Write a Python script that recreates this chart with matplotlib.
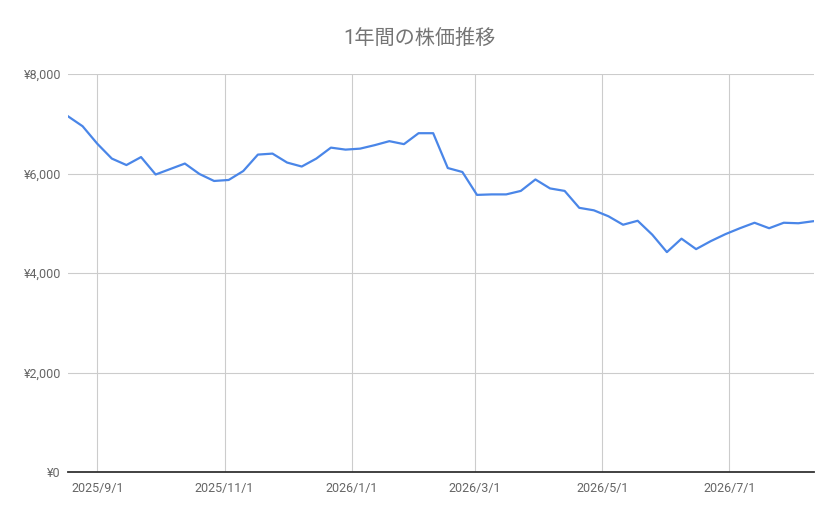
import matplotlib
matplotlib.use("Agg")
import matplotlib.pyplot as plt
import matplotlib.dates as mdates
from matplotlib.ticker import FuncFormatter, MultipleLocator
import pandas as pd

plt.rcParams['font.family'] = ['Roboto', 'Noto Sans CJK JP', 'DejaVu Sans']

# 週次の株価 (2025/8/18 から 52 週)
dates = pd.date_range('2025-08-18', periods=52, freq='7D')
prices = [7150, 6950, 6600, 6300, 6170, 6330, 5980, 6090, 6200, 5990,
          5850, 5870, 6050, 6380, 6400, 6220, 6140, 6300, 6520, 6480,
          6500, 6570, 6650, 6590, 6810, 6810, 6110, 6030, 5570, 5580,
          5580, 5650, 5880, 5700, 5650, 5310, 5260, 5140, 4970, 5050,
          4770, 4420, 4690, 4480, 4640, 4780, 4900, 5010, 4900, 5010,
          5000, 5040]
title = '1年間の株価推移'

fig = plt.figure(figsize=(8.39, 5.19), dpi=100)
ax = fig.add_axes([68 / 839, 1 - 472 / 519, 746 / 839, 398 / 519])

ax.plot(dates, prices, color='#4a86e8', linewidth=1.6, solid_joinstyle='round')

ax.set_xlim(dates[0], dates[-1] + pd.Timedelta(days=0.5))
ax.set_ylim(0, 8000)
ax.yaxis.set_major_locator(MultipleLocator(2000))
ax.yaxis.set_major_formatter(FuncFormatter(lambda v, p: '¥{:,.0f}'.format(v)))
ax.xaxis.set_major_locator(mdates.MonthLocator(bymonth=[1, 3, 5, 7, 9, 11]))
ax.xaxis.set_major_formatter(FuncFormatter(
    lambda v, p: '{0.year}/{0.month}/{0.day}'.format(mdates.num2date(v))))

ax.grid(True, color='#cccccc', linewidth=0.8)
ax.set_axisbelow(True)
for s in ['top', 'right', 'left']:
    ax.spines[s].set_visible(False)
ax.spines['bottom'].set_color('#333333')
ax.spines['bottom'].set_linewidth(1.3)
ax.spines['bottom'].set_zorder(3)
ax.tick_params(axis='both', length=0, labelsize=9, labelcolor='#666666')
ax.tick_params(axis='y', pad=5)
ax.tick_params(axis='x', pad=7)

fig.text(419 / 839, 1 - 38 / 519, title, ha='center', va='center',
         fontsize=14.5, color='#757575')

fig.savefig('out.png', dpi=100)
